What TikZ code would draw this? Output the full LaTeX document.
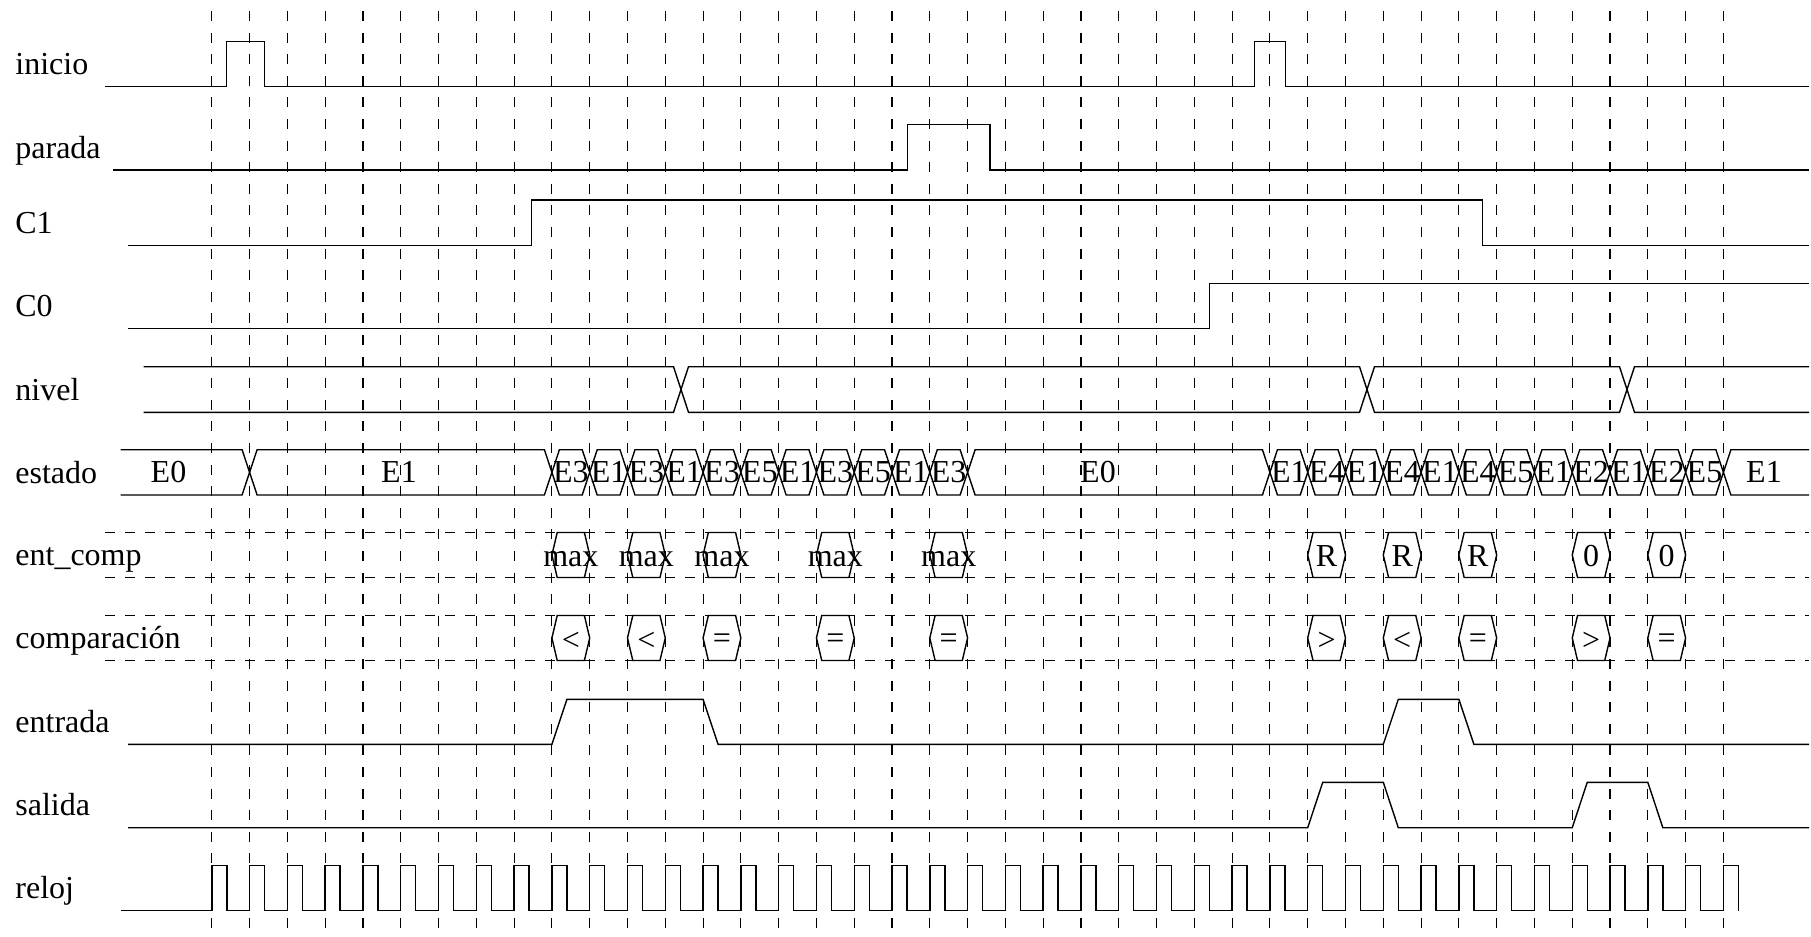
\documentclass[tikz,border=0pt]{standalone}
\usepackage{fontspec}
\setmainfont{Liberation Serif}
\newcommand\gx[1]{211.8+37.79*(#1)}
\begin{document}
\begin{tikzpicture}[x=0.5pt,y=-0.5pt,
  sig/.style={line width=0.7pt, line join=miter},
  busdash/.style={line width=0.55pt, dash pattern=on 5pt off 5pt},
  vdash/.style={line width=0.55pt, dash pattern=on 5pt off 5.8pt},
  lbl/.style={anchor=base west, inner sep=0pt, font=\fontsize{16}{19}\selectfont},
  txt/.style={anchor=base, inner sep=0pt, font=\fontsize{16}{19}\selectfont},
  sym/.style={anchor=center, inner sep=0pt, font=\fontsize{16}{19}\selectfont}]
\useasboundingbox (0,0) rectangle (1811,937);
% vertical dashed grid
\foreach \k in {0,...,40}{
  \draw[vdash] ({\gx{\k}},11) -- ({\gx{\k}},937);
}
% horizontal dashed bus borders
\draw[busdash] (105.2,532.5) -- (1809,532.5);
\draw[busdash] (105.2,577.5) -- (1809,577.5);
\draw[busdash] (105.2,615.5) -- (1809,615.5);
\draw[busdash] (105.2,660.5) -- (1809,660.5);
% labels
\node[lbl] (l1) at (15,74.5) {inicio};
\node[lbl] (l2) at (15,158) {parada};
\node[lbl] (l3) at (15,233) {C1};
\node[lbl] (l4) at (15,316.5) {C0};
\node[lbl] (l5) at (15,400) {nivel};
\node[lbl] (l6) at (15,483) {estado};
\node[lbl] (l7) at (15,565.5) {ent\_comp};
\node[lbl] (l8) at (15,648.5) {comparación};
\node[lbl] (l9) at (15,732.3) {entrada};
\node[lbl] (l10) at (15,815.5) {salida};
\node[lbl] (l11) at (15,898.7) {reloj};
% inicio
\draw[sig] (105.2,86.7) -- (226.7,86.7) -- (226.7,41.3) -- (264.7,41.3) -- (264.7,86.7)
  -- (1254.5,86.7) -- (1254.5,41.3) -- (1285.3,41.3) -- (1285.3,86.7) -- (1809,86.7);
% parada
\draw[sig] (112.9,170) -- (907.5,170) -- (907.5,124.7) -- (990,124.7) -- (990,170) -- (1809,170);
% C1
\draw[sig] (128.2,245.7) -- (531.2,245.7) -- (531.2,200) -- (1482.5,200) -- (1482.5,245.7) -- (1809,245.7);
% C0
\draw[sig] (128.2,328.3) -- (1209.4,328.3) -- (1209.4,283.3) -- (1809,283.3);
% nivel
\draw[sig] (143.5,366.7) -- (673.5,366.7) -- (688.5,412.3) -- (1359.5,412.3) -- (1374.5,366.7)
  -- (1619.5,366.7) -- (1634.5,412.3) -- (1809,412.3);
\draw[sig] (143.5,412.3) -- (673.5,412.3) -- (688.5,366.7) -- (1359.5,366.7) -- (1374.5,412.3)
  -- (1619.5,412.3) -- (1634.5,366.7) -- (1809,366.7);
% estado
\draw[sig] (120.6,449.7) -- ({\gx{1}-7.5},449.7) -- ({\gx{1}},472.35) -- ({\gx{1}-7.5},495) -- (120.6,495);
\node[txt] (e0a) at (168.5,482.9) {E0};
\draw[sig] ({\gx{1}},472.35) -- ({\gx{1}+7.5},449.7) -- ({\gx{9}-7.5},449.7) -- ({\gx{9}},472.35)
  -- ({\gx{9}-7.5},495) -- ({\gx{1}+7.5},495) -- cycle;
\node[txt] (e1a) at (399,482.9) {E1};
\draw[sig] ({\gx{20}},472.35) -- ({\gx{20}+7.5},449.7) -- ({\gx{28}-7.5},449.7) -- ({\gx{28}},472.35)
  -- ({\gx{28}-7.5},495) -- ({\gx{20}+7.5},495) -- cycle;
\node[txt] (e0b) at (1098,482.9) {E0};
\draw[sig] (1809,449.7) -- ({\gx{40}+7.5},449.7) -- ({\gx{40}},472.35) -- ({\gx{40}+7.5},495) -- (1809,495);
\node[txt] (e1b) at (1764,482.9) {E1};
\foreach \a/\b/\t [count=\i] in {9/10/E3,10/11/E1,11/12/E3,12/13/E1,13/14/E3,14/15/E5,15/16/E1,
  16/17/E3,17/18/E5,18/19/E1,19/20/E3,28/29/E1,29/30/E4,30/31/E1,31/32/E4,32/33/E1,33/34/E4,
  34/35/E5,35/36/E1,36/37/E2,37/38/E1,38/39/E2,39/40/E5}{
  \draw[sig] ({\gx{\a}},472.35) -- ({\gx{\a}+7.5},449.7) -- ({\gx{\b}-7.5},449.7) -- ({\gx{\b}},472.35)
    -- ({\gx{\b}-7.5},495) -- ({\gx{\a}+7.5},495) -- cycle;
  \node[txt] (st\i) at ({\gx{(\a+\b)/2}},482.9) {\t};
}
% ent_comp
\foreach \a/\t [count=\i] in {9/max,11/max,13/max,16/max,19/max,29/R,31/R,33/R,36/0,38/0}{
  \draw[sig] ({\gx{\a}},555) -- ({\gx{\a}+5.3},532.5) -- ({\gx{\a+1}-5.3},532.5) -- ({\gx{\a+1}},555)
    -- ({\gx{\a+1}-5.3},577.5) -- ({\gx{\a}+5.3},577.5) -- cycle;
  \node[txt] (ec\i) at ({\gx{\a+0.5}},566) {\t};
}
% comparacion
\foreach \a/\t [count=\i] in {9/<,11/<,13/=,16/=,19/=,29/>,31/<,33/=,36/>,38/=}{
  \draw[sig] ({\gx{\a}},638) -- ({\gx{\a}+5.3},615.5) -- ({\gx{\a+1}-5.3},615.5) -- ({\gx{\a+1}},638)
    -- ({\gx{\a+1}-5.3},660.5) -- ({\gx{\a}+5.3},660.5) -- cycle;
  \node[sym] (cp\i) at ({\gx{\a+0.5}},641) {\t};
}
% entrada
\draw[sig] (128.2,744.3) -- ({\gx{9}},744.3) -- ({\gx{9}+15},699.3) -- ({\gx{13}},699.3) -- ({\gx{13}+15},744.3)
  -- ({\gx{31}},744.3) -- ({\gx{31}+15},699.3) -- ({\gx{33}},699.3) -- ({\gx{33}+15},744.3) -- (1809,744.3);
% salida
\draw[sig] (128.2,827.7) -- ({\gx{29}},827.7) -- ({\gx{29}+15},782.3) -- ({\gx{31}},782.3) -- ({\gx{31}+15},827.7)
  -- ({\gx{36}},827.7) -- ({\gx{36}+15},782.3) -- ({\gx{38}},782.3) -- ({\gx{38}+15},827.7) -- (1809,827.7);
% reloj
\draw[sig] (120.6,910.7) \foreach \k in {0,...,40}{
  -- ({\gx{\k}},910.7) -- ({\gx{\k}},865.7) -- ({\gx{\k}+15},865.7) -- ({\gx{\k}+15},910.7) };
\end{tikzpicture}
\end{document}
